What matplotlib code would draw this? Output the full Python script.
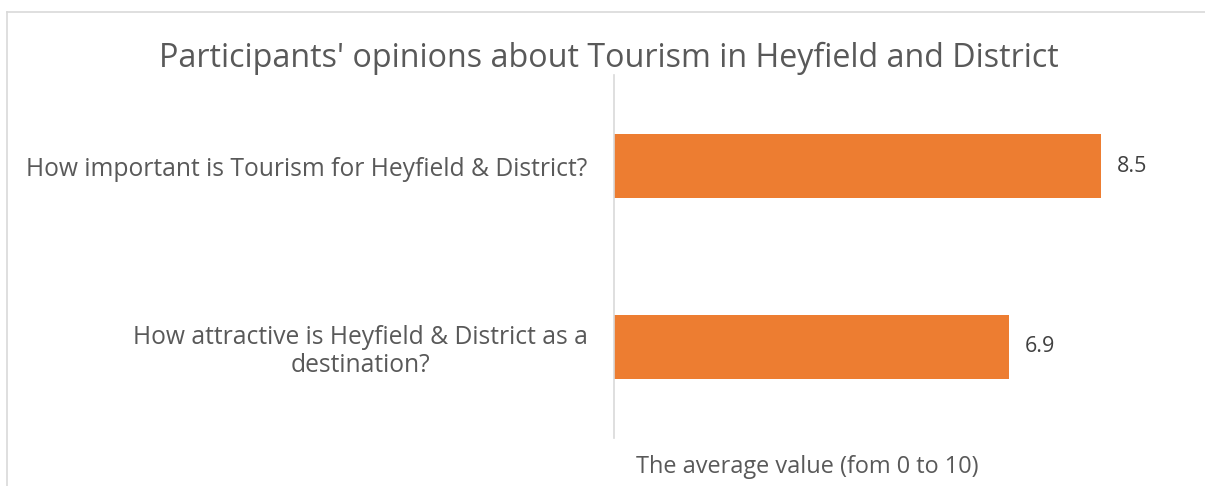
import matplotlib
matplotlib.use("Agg")
import matplotlib.pyplot as plt
from matplotlib.lines import Line2D

plt.rcParams['font.family'] = ['Open Sans', 'DejaVu Sans']

title = "Participants' opinions about Tourism in Heyfield and District"
categories = [
    "How important is Tourism for Heyfield & District?",
    "How attractive is Heyfield & District as a\ndestination?",
]
values = [8.5, 6.9]
x_label = "The average value (fom 0 to 10)"

text_gray = "#595959"
bar_color = "#ED7D31"
frame_gray = "#D9D9D9"

W, H = 1205, 486
fig = plt.figure(figsize=(W / 100, H / 100), dpi=100)
ax = fig.add_axes([614 / W, 1 - 437.5 / H, (1187 - 614) / W, (437.5 - 75.5) / H])

ypos = list(range(len(categories)))
ax.barh(ypos, values, height=0.354, color=bar_color)
ax.set_xlim(0, 10)
ax.set_ylim(len(categories) - 0.5, -0.5)

for y, v in zip(ypos, values):
    ax.text(v + 0.27, y, f"{v:.1f}", va="center", ha="left", fontsize=15.5, color="#404040")

ax.set_yticks(ypos)
ax.set_yticklabels(categories, fontsize=17.7, color=text_gray, multialignment="center",
                   linespacing=1.15)
ax.tick_params(axis="y", length=0, pad=19)
ax.set_xticks([])
for side in ("top", "right", "bottom"):
    ax.spines[side].set_visible(False)
ax.spines["left"].set_color(frame_gray)
ax.spines["left"].set_linewidth(1.2)

fig.text(609 / W, 1 - 58 / H, title, ha="center", va="center", fontsize=23.2, color=text_gray)
fig.text(807 / W, 1 - 467 / H, x_label, ha="center", va="center", fontsize=16.9, color=text_gray)

# chart frame edges
fig.add_artist(Line2D([7 / W, 1], [1 - 12 / H, 1 - 12 / H], color=frame_gray, lw=1.2))
fig.add_artist(Line2D([7 / W, 7 / W], [0, 1 - 12 / H], color=frame_gray, lw=1.2))

fig.savefig("out.png", dpi=100, facecolor="white")
